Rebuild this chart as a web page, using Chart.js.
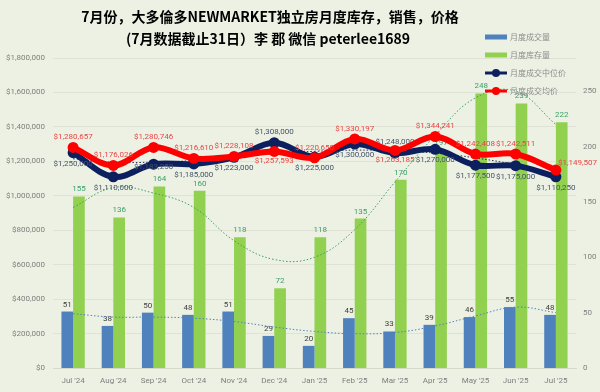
<!DOCTYPE html>
<html lang="zh">
<head>
    <meta charset="utf-8" />
    <title>大多倫多 NEWMARKET 独立房月度库存，销售，价格</title>
    <script src="https://cdn.jsdelivr.net/npm/chart.js@4.4.1/dist/chart.umd.min.js"></script>
    <style>
        html, body { margin: 0; padding: 0; background: #edf1e3; }
        #wrap { width: 600px; height: 392px; }
    </style>
</head>
<body>
<div id="wrap"><canvas id="chart-newmarket" width="600" height="392"></canvas></div>

<script>
    const months = ["Jul '24", "Aug '24", "Sep '24", "Oct '24", "Nov '24", "Dec '24", "Jan '25",
        "Feb '25", "Mar '25", "Apr '25", "May '25", "Jun '25", "Jul '25"];
    const salesCount = [51, 38, 50, 48, 51, 29, 20, 45, 33, 39, 46, 55, 48];
    const inventory = [155, 136, 164, 160, 118, 72, 118, 135, 170, 197, 248, 239, 222];
    const medianPrice = [1250000, 1110000, 1183250, 1185000, 1223000, 1308000, 1225000,
        1300000, 1248000, 1270000, 1177500, 1175000, 1110250];
    const meanPrice = [1280657, 1176026, 1280746, 1216610, 1228108, 1257593, 1220650,
        1330197, 1263185, 1344241, 1242408, 1242511, 1149507];
    // dotted trend lines
    const salesTrend = [49, 46, 46, 45, 42, 37, 33, 31, 32, 38, 47, 55, 50];
    const inventoryTrend = [145, 163, 158, 145, 115, 98, 100, 125, 168, 210, 244, 250, 220];
    const medianTrend = [1215000, 1195000, 1195000, 1205000, 1225000, 1245000, 1258000,
        1265000, 1262000, 1248000, 1220000, 1180000, 1125000];

    const titleLines = ['7月份，大多倫多NEWMARKET独立房月度库存，销售，价格',
        '(7月数据截止31日）李 郡 微信 peterlee1689'];
    const legendItems = [
        { text: '月度成交量', color: '#4f81bd', kind: 'bar' },
        { text: '月度库存量', color: '#92d050', kind: 'bar' },
        { text: '月度成交中位价', color: '#0c1f5e', kind: 'line' },
        { text: '月度成交均价', color: '#ff0000', kind: 'line' }
    ];

    // where each price label sits: a = above, b = below, c = on point, r = right
    const medianLabelPos = ['b', 'b', 'c', 'b', 'b', 'a', 'b', 'b', 'a', 'b', 'b', 'b', 'b'];
    const meanLabelPos = ['a', 'a', 'a', 'a', 'a', 'b', 'a', 'a', 'b', 'a', 'a', 'a', 'r'];

    const money = v => '$' + v.toLocaleString('en-US');
    const tickFont = { family: 'Roboto, sans-serif', size: 8 };

    const labelCfg = {
        mean: { color: '#e84545', gap: 10, pos: meanLabelPos, fmt: money },
        median: { color: '#44546a', gap: 11, pos: medianLabelPos, fmt: money },
        sales: { color: '#404040', gap: 7, fmt: v => String(v) },
        stock: { color: '#3a9f68', gap: 7, fmt: v => String(v) }
    };

    const pointLabels = {
        id: 'pointLabels',
        afterDatasetDraw(chart, args) {
            const ds = chart.data.datasets[args.index];
            const cfg = labelCfg[ds.key];
            if (!cfg) return;
            const ctx = chart.ctx;
            ctx.save();
            ctx.font = '8px Roboto, sans-serif';
            ctx.fillStyle = cfg.color;
            ctx.textBaseline = 'middle';
            args.meta.data.forEach((el, i) => {
                const pos = cfg.pos ? cfg.pos[i] : 'a';
                let x = el.x, y = el.y;
                ctx.textAlign = 'center';
                if (pos === 'a') y -= cfg.gap;
                else if (pos === 'b') y += cfg.gap;
                else if (pos === 'c') y += 3;
                else if (pos === 'r') { x += 2; y -= 7; ctx.textAlign = 'left'; }
                ctx.fillText(cfg.fmt(ds.data[i]), x, y);
            });
            ctx.restore();
        }
    };

    const titleAndLegend = {
        id: 'titleAndLegend',
        afterDraw(chart) {
            const ctx = chart.ctx;
            ctx.save();
            ctx.fillStyle = '#000';
            ctx.textAlign = 'center';
            ctx.textBaseline = 'middle';
            ctx.font = 'bold 14px "Noto Sans CJK SC", sans-serif';
            ctx.fillText(titleLines[0], 270, 17);
            ctx.fillText(titleLines[1], 268, 39);

            ctx.textAlign = 'left';
            ctx.font = '8px "Noto Sans CJK SC", sans-serif';
            legendItems.forEach((it, i) => {
                const y = 37 + i * 18;
                ctx.fillStyle = it.color;
                ctx.strokeStyle = it.color;
                if (it.kind === 'bar') {
                    ctx.fillRect(485, y - 2.5, 22, 5);
                } else {
                    ctx.lineWidth = 3;
                    ctx.beginPath();
                    ctx.moveTo(485, y);
                    ctx.lineTo(507, y);
                    ctx.stroke();
                    ctx.beginPath();
                    ctx.arc(496, y, 4, 0, Math.PI * 2);
                    ctx.fill();
                }
                ctx.fillStyle = '#8c8c8c';
                ctx.fillText(it.text, 510, y);
            });
            ctx.restore();
        }
    };

    const trendLine = (data, color, axis) => ({
        type: 'line', data, yAxisID: axis, borderColor: color, borderWidth: 1,
        borderDash: [1.5, 2], pointRadius: 0, tension: 0.4, fill: false, order: 2
    });

    new Chart(document.getElementById('chart-newmarket'), {
        data: {
            labels: months,
            datasets: [
                {
                    key: 'mean', type: 'line', label: '月度成交均价', data: meanPrice, yAxisID: 'y',
                    borderColor: '#ff0000', backgroundColor: '#ff0000', borderWidth: 6,
                    pointRadius: 5.5, pointBorderWidth: 0, tension: 0.35, order: 0
                },
                {
                    key: 'median', type: 'line', label: '月度成交中位价', data: medianPrice, yAxisID: 'y',
                    borderColor: '#0c1f5e', backgroundColor: '#0c1f5e', borderWidth: 6,
                    pointRadius: 5.5, pointBorderWidth: 0, tension: 0.35, order: 1
                },
                trendLine(medianTrend, '#1f2d5a', 'y'),
                trendLine(inventoryTrend, '#3a9f68', 'y1'),
                trendLine(salesTrend, '#4f81bd', 'y1'),
                {
                    key: 'sales', type: 'bar', label: '月度成交量', data: salesCount, yAxisID: 'y1',
                    backgroundColor: '#4f81bd', categoryPercentage: 0.58, barPercentage: 1, order: 3
                },
                {
                    key: 'stock', type: 'bar', label: '月度库存量', data: inventory, yAxisID: 'y1',
                    backgroundColor: '#92d050', categoryPercentage: 0.58, barPercentage: 1, order: 3
                }
            ]
        },
        options: {
            responsive: false,
            animation: false,
            layout: { padding: { top: 58, left: 0, right: 0, bottom: 0 } },
            plugins: { legend: { display: false }, title: { display: false }, tooltip: { enabled: false } },
            scales: {
                x: {
                    offset: true,
                    grid: { display: false },
                    border: { color: '#d6dbc9' },
                    ticks: { color: '#7f7f7f', font: tickFont, padding: 0, maxRotation: 0 },
                    afterFit: s => { s.height = 24; }
                },
                y: {
                    position: 'left', min: 0, max: 1800000,
                    grid: { color: 'rgba(0,0,0,0.06)', drawTicks: false },
                    border: { display: false },
                    ticks: { stepSize: 200000, color: '#7f7f7f', font: tickFont, padding: 8, callback: v => money(v) },
                    afterFit: s => { s.width = 53; }
                },
                y1: {
                    position: 'right', min: 0, max: 280,
                    grid: { display: false, drawTicks: false },
                    border: { display: false },
                    ticks: { stepSize: 50, color: '#7f7f7f', font: tickFont, padding: 7,
                        callback: v => (v % 50 === 0 ? v : '') },
                    afterFit: s => { s.width = 24; }
                }
            }
        },
        plugins: [pointLabels, titleAndLegend]
    });
</script>
</body>
</html>
